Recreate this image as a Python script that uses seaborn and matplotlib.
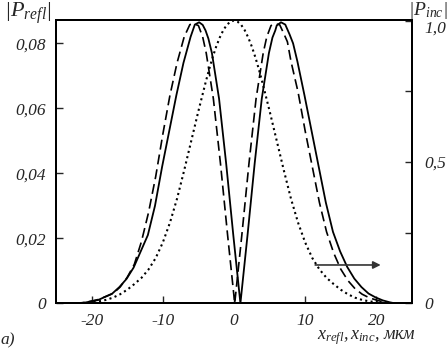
#!/usr/bin/env python3
"""reflected / incident beam profiles, seaborn"""

import matplotlib
matplotlib.use("Agg")
import seaborn as sns
import matplotlib.pyplot as plt

# solid curve |P_refl| (left axis)
x_solid = [-22.6, -21.0, -19.1, -17.1, -16.1, -15.1, -14.1, -13.1, -12.1, -11.1,
           -10.1, -9.1, -8.1, -7.1, -6.1, -5.5, -4.9, -4.4, -4.0, -3.6, -3.1,
           -2.1, -1.1, -0.1, 0.9, 1.9, 2.9, 3.9, 4.9, 5.4, 5.8, 6.0, 6.6, 7.2,
           7.8, 8.3, 8.9, 9.9, 10.9, 11.9, 12.9, 13.9, 14.9, 15.9, 16.9, 17.9,
           18.9, 19.9, 20.9, 21.9, 22.6]
y_solid = [0.0, 0.0002, 0.001, 0.003, 0.005, 0.0075, 0.011, 0.016, 0.021, 0.030,
           0.042, 0.053, 0.064, 0.074, 0.082, 0.0858, 0.0865, 0.0857, 0.084,
           0.0815, 0.077, 0.063, 0.043, 0.021, 0.0, 0.021, 0.043, 0.063, 0.077,
           0.0818, 0.084, 0.0855, 0.0865, 0.0858, 0.0828, 0.080, 0.0745, 0.064,
           0.053, 0.042, 0.031, 0.022, 0.016, 0.0112, 0.0076, 0.005, 0.003,
           0.0018, 0.0009, 0.0003, 0.0]

# dashed curve |P_refl| (left axis)
x_dash = [-22.5, -21.0, -19.0, -17.0, -16.0, -15.0, -14.0, -13.0, -12.0, -11.0,
          -10.0, -9.0, -8.0, -7.0, -6.2, -5.6, -5.0, -4.4, -3.9, -2.9, -1.9,
          -0.9, 0.1, 1.1, 2.1, 3.1, 4.1, 4.6, 5.2, 5.8, 6.4, 7.0, 7.5, 8.0, 9.0,
          10.0, 11.0, 12.0, 13.0, 14.0, 15.0, 16.0, 17.0, 18.0, 19.0, 20.0,
          21.0, 22.0]
y_dash = [0.0, 0.0002, 0.0012, 0.003, 0.005, 0.008, 0.012, 0.019, 0.028, 0.039,
          0.052, 0.064, 0.074, 0.082, 0.0858, 0.086, 0.0855, 0.082, 0.077,
          0.063, 0.043, 0.021, 0.0, 0.021, 0.043, 0.063, 0.077, 0.082, 0.0855,
          0.086, 0.0858, 0.083, 0.0805, 0.0745, 0.065, 0.053, 0.042, 0.031,
          0.022, 0.0155, 0.0105, 0.007, 0.0045, 0.0028, 0.0017, 0.001, 0.0004,
          0.0]

# dotted curve |P_inc| (right axis)
x_dot = [-22, -21, -20, -19, -18, -17, -16, -15, -14, -13, -12, -11, -10, -9, -8,
         -7, -6, -5, -4, -3.5, -3, -2.5, -2, -1.5, -1, -0.5, 0, 0.5, 1, 1.5, 2,
         2.5, 3, 3.5, 4, 5, 6, 7, 8, 9, 10, 11, 12, 13, 14, 15, 16, 17, 18, 19,
         20, 21, 22]
y_dot = [0.0005, 0.002, 0.004, 0.007, 0.012, 0.02, 0.032, 0.048, 0.068, 0.09,
         0.12, 0.16, 0.215, 0.285, 0.37, 0.47, 0.575, 0.68, 0.78, 0.827, 0.87,
         0.908, 0.94, 0.966, 0.985, 0.996, 1.0, 0.996, 0.985, 0.966, 0.94,
         0.908, 0.87, 0.827, 0.78, 0.68, 0.575, 0.47, 0.37, 0.285, 0.215, 0.16,
         0.12, 0.09, 0.068, 0.048, 0.032, 0.02, 0.012, 0.007, 0.004, 0.002,
         0.0005]

x_ticks = [-20, -10, 0, 10, 20]
x_ticklabels = ["-20", "-10", "0", "10", "20"]
left_ticks = [0, 0.02, 0.04, 0.06, 0.08]
left_ticklabels = ["0", "0,02", "0,04", "0,06", "0,08"]
right_ticks = [0, 0.5, 1.0]
right_ticklabels = ["0", "0,5", "1,0"]
right_minor = [0.25, 0.75]

sns.set_style("ticks")
plt.rcParams["font.family"] = ["Liberation Serif", "DejaVu Serif"]
plt.rcParams["font.style"] = "italic"
plt.rcParams["mathtext.fontset"] = "custom"
plt.rcParams["mathtext.it"] = "Liberation Serif:italic"
plt.rcParams["mathtext.rm"] = "Liberation Serif:italic"

fig = plt.figure(figsize=(4.47, 3.48), dpi=100)
ax = fig.add_axes([0.1253, 0.1284, 0.7964, 0.815])
ax2 = ax.twinx()

sns.lineplot(x=x_solid, y=y_solid, ax=ax, color="black", lw=1.3, sort=False)
sns.lineplot(x=x_dash, y=y_dash, ax=ax, color="black", lw=1.2,
             linestyle=(0, (6, 3)), sort=False)
sns.lineplot(x=x_dot, y=y_dot, ax=ax2, color="black", lw=1.5,
             linestyle=(0, (1, 1.6)), sort=False)

ax.set_xlim(-25, 25)
ax.set_ylim(0, 0.0873)
ax2.set_ylim(0, 1.003)

ax.set_xticks(x_ticks)
ax.set_xticklabels(x_ticklabels)
ax.set_yticks(left_ticks)
ax.set_yticklabels(left_ticklabels)
ax2.set_yticks(right_ticks)
ax2.set_yticklabels(right_ticklabels)
ax2.set_yticks(right_minor, minor=True)

ax.tick_params(axis="both", direction="in", length=5, width=1, labelsize=12.5, pad=7)
ax.tick_params(axis="y", right=False)
ax2.tick_params(axis="y", which="both", direction="in", length=5, width=1,
                labelsize=12.5, pad=9)
# top right label sits just under the tick, as in the original
ax2.yaxis.get_major_ticks()[-1].label2.set_verticalalignment("top")

for a in (ax, ax2):
    for s in a.spines.values():
        s.set_linewidth(1.4)
        s.set_color("black")

# arrow pointing to the right axis
ax.annotate("", xy=(20.6, 0.0118), xytext=(11.4, 0.0118),
            arrowprops=dict(arrowstyle="-|>", color="#333333", lw=1.2,
                            mutation_scale=11, shrinkA=0, shrinkB=0))

fig.text(0.008, 1.0, r"$|P_{refl}|$", fontsize=16, va="top", ha="left")
fig.text(0.912, 1.0, r"$|P_{inc}|$", fontsize=14, va="top", ha="left")
fig.text(0.93, 0.004, r"$x_{refl}, x_{inc}$, мкм", fontsize=13, ha="right",
         va="bottom")
fig.text(0.0, 0.0, "a)", fontsize=12.5, ha="left", va="bottom")

fig.savefig("out.png", dpi=100)
